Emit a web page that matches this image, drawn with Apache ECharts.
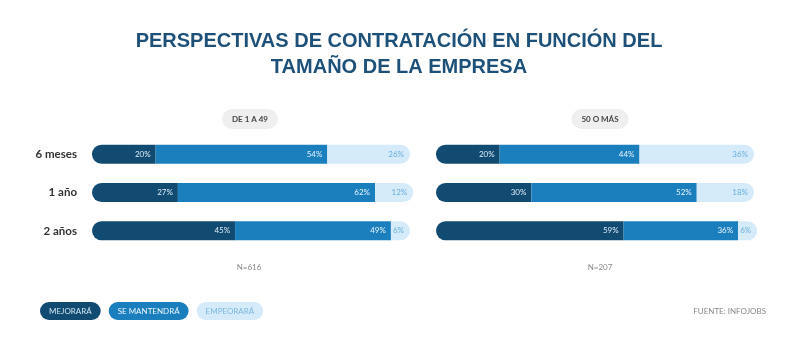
<!DOCTYPE html>
<html>
<head>
<meta charset="utf-8">
<script src="https://cdn.jsdelivr.net/npm/echarts@6/dist/echarts.min.js"></script>
<style>
  html, body { margin: 0; padding: 0; background: #fff; }
  #chart { width: 811px; height: 352px; }
</style>
</head>
<body>
<div id="chart"></div>
<script>
// data
const periods = ['6 meses', '1 año', '2 años']
const seriesNames = ['MEJORARÁ', 'SE MANTENDRÁ', 'EMPEORARÁ']
const smallCompany = {
  mejorara: [20, 27, 45],
  mantendra: [54, 62, 49],
  empeorara: [26, 12, 6],
}
const bigCompany = {
  mejorara: [20, 30, 59],
  mantendra: [44, 52, 36],
  empeorara: [36, 18, 6],
}
const groupLabels = ['DE 1 A 49', '50 O MÁS']
const sampleLabels = ['N=616', 'N=207']

const colors = ['#124b72', '#1b7fbe', '#d5ebf9']
const labelColors = ['#dcecf8', '#e8f4fc', '#6aaedb']
const legendText = ['#d3e6f4', '#eef7fd', '#7bb7e0']
const font = 'Lato, "Noto Sans", sans-serif'

const chart = echarts.init(document.getElementById('chart'))

function barSeries(block, gridIdx) {
  const keys = ['mejorara', 'mantendra', 'empeorara']
  return keys.map((k, i) => ({
    name: seriesNames[i],
    type: 'bar',
    stack: 'g' + gridIdx,
    xAxisIndex: gridIdx,
    yAxisIndex: gridIdx,
    barWidth: 19,
    clip: false, // 59+36+6 goes one point past 100
    data: block[k],
    itemStyle: {
      color: colors[i],
      borderRadius: i === 0 ? [10, 0, 0, 10] : i === 2 ? [0, 10, 10, 0] : 0,
    },
    label: {
      show: true,
      position: 'insideRight',
      distance: i === 2 ? 6 : 5,
      formatter: '{c}%',
      fontSize: 8,
      fontFamily: font,
      color: labelColors[i],
    },
  }))
}

const pill = (text, left, top) => ({
  text,
  left,
  top,
  textAlign: 'center',
  backgroundColor: '#efefef',
  borderRadius: 10,
  padding: [6, 10],
  textStyle: { fontSize: 8, fontWeight: 'bold', color: '#444', fontFamily: font },
})

const smallText = (text, left, top) => ({
  text, left, top, textAlign: 'center',
  textStyle: { fontSize: 8, color: '#888', fontWeight: 'normal', fontFamily: font },
})

chart.setOption({
  animation: false,
  title: [
    {
      text: 'PERSPECTIVAS DE CONTRATACIÓN EN FUNCIÓN DEL\nTAMAÑO DE LA EMPRESA',
      left: 394,
      top: 23,
      textAlign: 'center',
      textStyle: {
        fontFamily: '"Liberation Sans", Arial, sans-serif',
        fontSize: 20,
        fontWeight: 'bold',
        color: '#1d5179',
        lineHeight: 26,
        align: 'center',
      },
    },
    pill(groupLabels[0], 240, 109),
    pill(groupLabels[1], 590, 109),
    smallText(sampleLabels[0], 244, 258),
    smallText(sampleLabels[1], 595, 258),
    {
      text: 'FUENTE: INFOJOBS', right: 40, top: 302,
      textStyle: { fontSize: 8, color: '#888', fontWeight: 'normal', fontFamily: font },
    },
  ],
  legend: {
    left: 35,
    top: 302,
    padding: 0,
    icon: 'none',
    itemWidth: 0,
    itemHeight: 0,
    itemGap: 3,
    selectedMode: false,
    data: seriesNames.map((n, i) => ({
      name: n,
      textStyle: {
        fontSize: 8,
        fontFamily: font,
        color: legendText[i],
        backgroundColor: colors[i],
        borderRadius: 9,
        padding: [5, 9],
      },
    })),
  },
  grid: [
    { left: 92, width: 318, top: 135, height: 115 },
    { left: 436, width: 318, top: 135, height: 115 },
  ],
  xAxis: [0, 1].map(i => ({
    type: 'value', gridIndex: i, min: 0, max: 100, show: false,
  })),
  yAxis: [0, 1].map(i => ({
    type: 'category',
    gridIndex: i,
    inverse: true,
    data: periods,
    axisLine: { show: false },
    axisTick: { show: false },
    axisLabel: {
      show: i === 0,
      margin: 15,
      fontSize: 11.5,
      fontWeight: 'bold',
      color: '#333',
      fontFamily: font,
    },
  })),
  series: [...barSeries(smallCompany, 0), ...barSeries(bigCompany, 1)],
})
</script>
</body>
</html>
